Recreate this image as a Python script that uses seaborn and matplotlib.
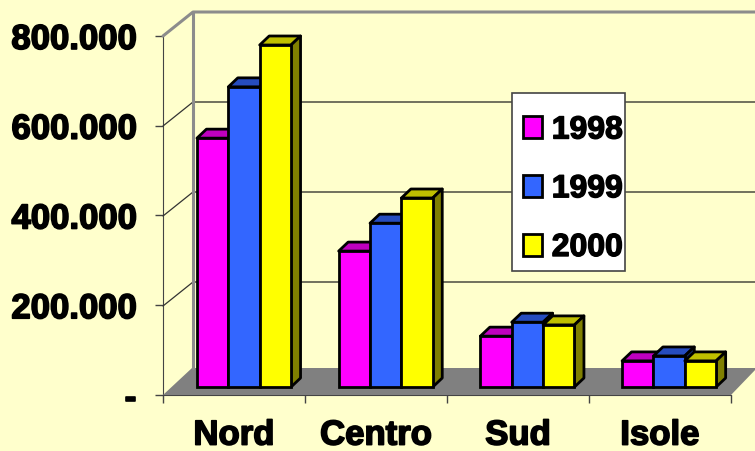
import matplotlib
matplotlib.use("Agg")
import matplotlib.pyplot as plt
import matplotlib.patheffects as pe
from matplotlib.patches import Polygon, Rectangle
from matplotlib.ticker import FuncFormatter
import pandas as pd
import seaborn as sns

regions = ["Nord", "Centro", "Sud", "Isole"]
years = ["1998", "1999", "2000"]
values_1998 = [553000, 302000, 113000, 58000]
values_1999 = [667000, 364000, 144000, 69000]
values_2000 = [760000, 420000, 138000, 58000]
y_ticks = [0, 200000, 400000, 600000, 800000]

colors = ["#FF00FF", "#3366FF", "#FFFF00"]
top_colors = ["#BF00BF", "#264CBF", "#BFBF00"]
side_colors = ["#800080", "#1A3380", "#808000"]
bg = "#FFFFCC"

W, H = 755, 451
sns.set_style("white")
plt.rcParams["font.family"] = ["Liberation Sans", "DejaVu Sans"]
plt.rcParams["text.color"] = "black"
plt.rcParams["xtick.labelcolor"] = "black"
plt.rcParams["ytick.labelcolor"] = "black"

df = pd.DataFrame({
    "region": regions * 3,
    "year": [y for y in years for _ in regions],
    "value": values_1998 + values_1999 + values_2000,
})

fig = plt.figure(figsize=(W / 100, H / 100), dpi=100, facecolor=bg)

# front plane of the fake 3d box, this one carries the real axis
axis_ax = fig.add_axes([163 / W, 1 - 395 / H, 568 / W, 359 / H], facecolor="none")
axis_ax.set_xlim(0, 4)
axis_ax.set_ylim(0, 800000)
axis_ax.set_yticks(y_ticks)
axis_ax.yaxis.set_major_formatter(FuncFormatter(
    lambda v, p: "-" if v == 0 else f"{int(v):,}".replace(",", ".")))
axis_ax.set_xticks(range(5))
axis_ax.set_xticklabels([])
axis_ax.set_xticks([0.5, 1.5, 2.5, 3.5], minor=True)
axis_ax.set_xticklabels(regions, minor=True)
axis_ax.tick_params(axis="x", which="major", length=6, width=1, color="#444444", bottom=True)
axis_ax.tick_params(axis="x", which="minor", length=0, pad=17, labelsize=25)
axis_ax.tick_params(axis="y", length=6, width=1, color="#444444", left=True, pad=13, labelsize=25)
for lab in axis_ax.get_xticklabels(minor=True) + axis_ax.get_yticklabels():
    lab.set_fontweight("bold")
    lab.set_path_effects([pe.withStroke(linewidth=1.2, foreground="black")])
sns.despine(ax=axis_ax)
axis_ax.spines["left"].set_color("#444444")
axis_ax.spines["bottom"].set_color("#444444")

# bars live on a full figure axes, 0.45 px per 1000 with the base at y=387
ax = fig.add_axes([0, 0, 1, 1], facecolor="none")
sns.barplot(data=df, x="region", y="value", hue="year", hue_order=years, order=regions,
            palette=colors, saturation=1, width=0.664, gap=0, edgecolor="black",
            linewidth=2, ax=ax)
ax.set_xlim(-244 / 141.7, (W - 244) / 141.7)
ax.set_ylim((387 - H) / 0.45 * 1000, 387 / 0.45 * 1000)
ax.set_axis_off()
handles, labels = ax.get_legend_handles_labels()


def px(x, y):
    return ((x - 244) / 141.7, (387 - y) / 0.45 * 1000)


# floor and walls
ax.add_patch(Polygon([px(163, 395), px(731, 395), px(757, 368), px(192, 368)],
                     facecolor="#808080", edgecolor="none", zorder=0.5))
for yy in [102, 192, 282]:
    ax.plot(*zip(px(193, yy), px(W, yy)), color="#666655", lw=1.3, zorder=0.6)
for yy in [126, 216, 306]:
    ax.plot(*zip(px(163, yy), px(193, yy - 24)), color="#333333", lw=0.9, zorder=0.6)
ax.plot(*zip(px(163, 36), px(193, 12), px(W, 12)), color="#8C8C8C", lw=2.2, zorder=0.7)
ax.plot(*zip(px(193, 12), px(193, 368)), color="#8C8C8C", lw=2.2, zorder=0.7)

# extrude the seaborn bars, left to right so the next bar hides the side
dx = 9.5 / 141.7
dy = 9 / 0.45 * 1000
bars = [p for p in ax.patches if isinstance(p, Rectangle) and p.get_width() > 0]
bars = sorted(bars, key=lambda p: p.get_x())
for i, bar in enumerate(bars):
    x0, w, h = bar.get_x(), bar.get_width(), bar.get_height()
    k = colors.index(matplotlib.colors.to_hex(bar.get_facecolor()).upper())
    z = 2 + i * 0.1
    ax.add_patch(Polygon([(x0, h), (x0 + w, h), (x0 + w + dx, h + dy), (x0 + dx, h + dy)],
                         facecolor=top_colors[k], edgecolor="black", lw=2, zorder=z,
                         joinstyle="round"))
    ax.add_patch(Polygon([(x0 + w, 0), (x0 + w + dx, dy), (x0 + w + dx, h + dy), (x0 + w, h)],
                         facecolor=side_colors[k], edgecolor="black", lw=2, zorder=z,
                         joinstyle="round"))
    bar.set_zorder(z + 0.05)

# legend text runs right up to the box edge, so the box is drawn apart from the legend
ax.add_patch(Rectangle(px(512, 271), 113 / 141.7, 178 / 0.45 * 1000, facecolor="white",
                       edgecolor="#444444", lw=1.2, zorder=9))
leg = ax.legend(handles, labels, loc="upper left", bbox_to_anchor=(523 / W, 1 - 115.5 / H),
                borderaxespad=0, borderpad=0, frameon=False, handlelength=0.6, handleheight=0.69,
                handletextpad=0.3, labelspacing=0.9, prop={"weight": "bold", "size": 23})
leg.set_zorder(10)
for t in leg.get_texts():
    t.set_path_effects([pe.withStroke(linewidth=1.0, foreground="black")])

fig.savefig("out.png", dpi=100, facecolor=bg)
